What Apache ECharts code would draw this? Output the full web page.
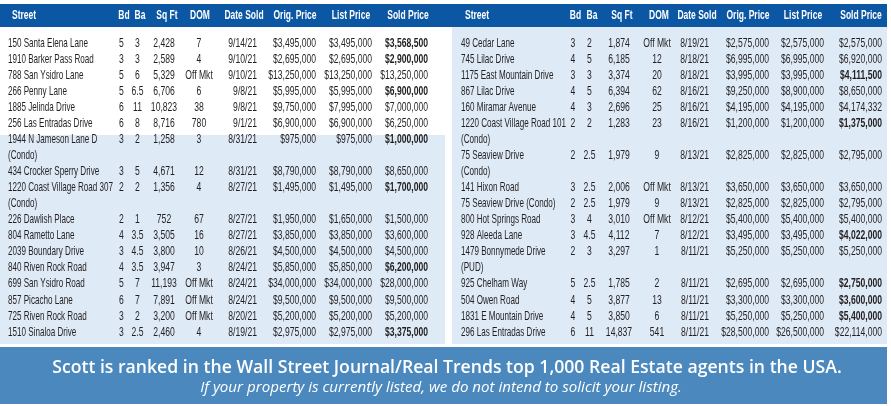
<!DOCTYPE html>
<html><head><meta charset="utf-8">
<script src="https://cdn.jsdelivr.net/npm/echarts@6/dist/echarts.min.js"></script>
<style>html,body{margin:0;padding:0;background:#fff}#c{width:891px;height:406px}</style>
</head><body><div id="c"></div>
<script>
// ---------- DATA ----------
const headers = ["Street","Bd","Ba","Sq Ft","DOM","Date Sold","Orig. Price","List Price","Sold Price"];

const streetsL = ["150 Santa Elena Lane","1910 Barker Pass Road","788 San Ysidro Lane","266 Penny Lane","1885 Jelinda Drive","256 Las Entradas Drive","1944 N Jameson Lane D\n(Condo)","434 Crocker Sperry Drive","1220 Coast Village Road 307\n(Condo)","226 Dawlish Place","804 Rametto Lane","2039 Boundary Drive","840 Riven Rock Road","699 San Ysidro Road","857 Picacho Lane","725 Riven Rock Road","1510 Sinaloa Drive"];
const bedsL = [5,3,5,5,6,6,3,3,2,2,4,3,4,5,6,3,3];
const bathsL = [3,3,6,6.5,11,8,2,5,2,1,3.5,4.5,3.5,7,7,2,2.5];
const sqftL = [2428,2589,5329,6706,10823,8716,1258,4671,1356,752,3505,3800,3947,11193,7891,3200,2460];
const domL = ["7","4","Off Mkt","6","38","780","3","12","4","67","16","10","3","Off Mkt","Off Mkt","Off Mkt","4"];
const dateL = ["9/14/21","9/10/21","9/10/21","9/8/21","9/8/21","9/1/21","8/31/21","8/31/21","8/27/21","8/27/21","8/27/21","8/26/21","8/24/21","8/24/21","8/24/21","8/20/21","8/19/21"];
const origL = [3495000,2695000,13250000,5995000,9750000,6900000,975000,8790000,1495000,1950000,3850000,4500000,5850000,34000000,9500000,5200000,2975000];
const listL = [3495000,2695000,13250000,5995000,7995000,6900000,975000,8790000,1495000,1650000,3850000,4500000,5850000,34000000,9500000,5200000,2975000];
const soldL = [3568500,2900000,13250000,6900000,7000000,6250000,1000000,8650000,1700000,1500000,3600000,4500000,6200000,28000000,9500000,5200000,3375000];

const streetsR = ["49 Cedar Lane","745 Lilac Drive","1175 East Mountain Drive","867 Lilac Drive","160 Miramar Avenue","1220 Coast Village Road 101\n(Condo)","75 Seaview Drive\n(Condo)","141 Hixon Road","75 Seaview Drive (Condo)","800 Hot Springs Road","928 Aleeda Lane","1479 Bonnymede Drive\n(PUD)","925 Chelham Way","504 Owen Road","1831 E Mountain Drive","296 Las Entradas Drive"];
const bedsR = [3,4,3,4,4,2,2,3,2,3,3,2,5,4,4,6];
const bathsR = [2,5,3,5,3,2,2.5,2.5,2.5,4,4.5,3,2.5,5,5,11];
const sqftR = [1874,6185,3374,6394,2696,1283,1979,2006,1979,3010,4112,3297,1785,3877,3850,14837];
const domR = ["Off Mkt","12","20","62","25","23","9","Off Mkt","9","Off Mkt","7","1","2","13","6","541"];
const dateR = ["8/19/21","8/18/21","8/18/21","8/16/21","8/16/21","8/16/21","8/13/21","8/13/21","8/13/21","8/12/21","8/12/21","8/11/21","8/11/21","8/11/21","8/11/21","8/11/21"];
const origR = [2575000,6995000,3995000,9250000,4195000,1200000,2825000,3650000,2825000,5400000,3495000,5250000,2695000,3300000,5250000,28500000];
const listR = [2575000,6995000,3995000,8900000,4195000,1200000,2825000,3650000,2825000,5400000,3495000,5250000,2695000,3300000,5250000,26500000];
const soldR = [2575000,6920000,4111500,8650000,4174332,1375000,2795000,3650000,2795000,5400000,4022000,5250000,2750000,3600000,5400000,22114000];

const bannerTitle = "Scott is ranked in the Wall Street Journal/Real Trends top 1,000 Real Estate agents in the USA.";
const bannerNote = "If your property is currently listed, we do not intend to solicit your listing.";

// ---------- LAYOUT / STYLE ----------
const W = 891, H = 406;
const LINE0 = 43, LH = 16.06, HEAD_Y = 15.5;
const FS = 13, HFS = 13;
const FONT = "'Liberation Sans Narrow','Liberation Sans',Arial,sans-serif";
const TEXT = '#231f20';
const LAYOUT = [
  { street: 8,
    cols: [[121.5,'center'],[137.5,'center'],[164,'center'],[199,'center'],[257,'right'],[316,'right'],[372,'right'],[428,'right']],
    head: [[12,'left'],[124,'center'],[140,'center'],[167,'center'],[200,'center'],[244,'center'],[295,'center'],[351,'center'],[408,'center']] },
  { street: 461,
    cols: [[573,'center'],[589.5,'center'],[619,'center'],[657,'center'],[709,'right'],[769,'right'],[824,'right'],[882,'right']],
    head: [[465,'left'],[575.5,'center'],[592,'center'],[622,'center'],[659,'center'],[697,'center'],[748,'center'],[803,'center'],[861,'center']] }
];

const ctx = document.createElement('canvas').getContext('2d');
function tw(t, size, weight, fam, style){ ctx.font = (style||'normal')+' '+(weight||'normal')+' '+size+'px '+(fam||FONT); return ctx.measureText(t).width; }
const SX_STREET = 80 / tw("150 Santa Elena Lane", FS);
const SX_NUM = 43 / tw("$3,495,000", FS);
const SX_HEAD = 43 / tw("Orig. Price", HFS, 'bold');
const TITLE_FS = 19 * 790 / tw(bannerTitle, 19, '600', 'Open Sans');
const NOTE_FS = 14 * 482 / tw(bannerNote, 14, '400', 'Open Sans', 'italic');

const money = v => '$' + v.toLocaleString('en-US');
const num = v => v.toLocaleString('en-US');

// ---------- BUILD ROWS ----------
const rows = [];
function addTable(t, streets, beds, baths, sqft, dom, date, orig, list, sold){
  rows.push({ t, header: true, line: (HEAD_Y - LINE0) / LH });
  let line = 0;
  streets.forEach((s, i) => {
    const parts = s.split('\n');
    rows.push({ t, header: false, line, parts,
      cells: [String(beds[i]), String(baths[i]), num(sqft[i]), dom[i], date[i], money(orig[i]), money(list[i]), money(sold[i])],
      bold: sold[i] > list[i] });
    line += parts.length;
  });
}
addTable(0, streetsL, bedsL, bathsL, sqftL, domL, dateL, origL, listL, soldL);
addTable(1, streetsR, bedsR, bathsR, sqftR, domR, dateR, origR, listR, soldR);

function txt(x, y, text, align, opt){
  return { type: 'text', x, y, scaleX: opt.sx,
    style: { text, x: 0, y: 0, fill: opt.fill || TEXT, fontSize: opt.fs || FS, fontFamily: FONT,
             fontWeight: opt.bold ? 'bold' : 'normal', align, verticalAlign: 'middle' } };
}

function renderItem(params, api){
  const r = rows[params.dataIndex];
  const L = LAYOUT[r.t];
  const yOf = ln => api.coord([0, ln])[1];
  const xOf = v => api.coord([v, 0])[0];
  const children = [];
  if (r.header){
    const y = yOf(r.line);
    headers.forEach((h, k) => children.push(txt(xOf(L.head[k][0]), y, h, L.head[k][1], { sx: SX_HEAD, bold: true, fill: '#ffffff', fs: HFS })));
  } else {
    r.parts.forEach((p, k) => children.push(txt(xOf(L.street), yOf(r.line + k), p, 'left', { sx: SX_STREET })));
    const y = yOf(r.line);
    r.cells.forEach((c, k) => children.push(txt(xOf(L.cols[k][0]), y, c, L.cols[k][1], { sx: SX_NUM, bold: k === 7 && r.bold })));
  }
  return { type: 'group', children };
}

const chart = echarts.init(document.getElementById('c'), null, { renderer: 'canvas' });
chart.setOption({
  animation: false,
  backgroundColor: '#ffffff',
  grid: { left: 0, right: 0, top: 0, bottom: 0 },
  xAxis: { type: 'value', min: 0, max: W, show: false },
  yAxis: { type: 'value', min: -LINE0 / LH, max: (H - LINE0) / LH, inverse: true, show: false },
  graphic: [
    { type: 'rect', z: -10, shape: { x: 0, y: 4, width: 887, height: 23 }, style: { fill: '#0b57a3' } },
    { type: 'rect', z: -10, shape: { x: 0, y: 135, width: 445, height: 209 }, style: { fill: '#deeaf6' } },
    { type: 'rect', z: -10, shape: { x: 452, y: 27, width: 435, height: 317 }, style: { fill: '#deeaf6' } },
    { type: 'rect', z: -10, shape: { x: 0, y: 347, width: 887, height: 57 }, style: { fill: '#4a88be' } },
    { type: 'text', z: 10, x: 447, y: 368, style: { text: bannerTitle, fill: '#ffffff', fontFamily: 'Open Sans', fontWeight: 600, fontSize: TITLE_FS, align: 'center', verticalAlign: 'middle' } },
    { type: 'text', z: 10, x: 441, y: 388, style: { text: bannerNote, fill: '#ffffff', fontFamily: 'Open Sans', fontStyle: 'italic', fontSize: NOTE_FS, align: 'center', verticalAlign: 'middle' } }
  ],
  series: [{
    type: 'custom', clip: false, silent: true,
    data: rows.map(r => [0, r.line]),
    encode: { x: 0, y: 1 },
    renderItem
  }]
});
</script></body></html>
